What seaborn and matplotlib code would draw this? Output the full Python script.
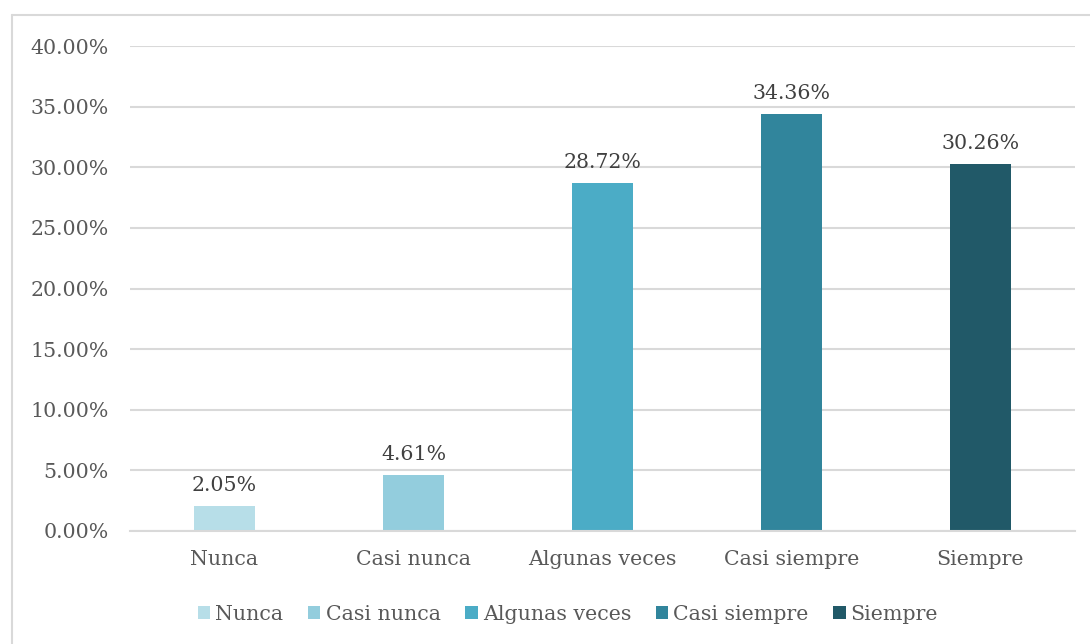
import matplotlib
matplotlib.use("Agg")
import matplotlib.pyplot as plt
from matplotlib.lines import Line2D
from matplotlib.patches import Patch
import seaborn as sns
import pandas as pd

categories = ["Nunca", "Casi nunca", "Algunas veces", "Casi siempre", "Siempre"]
values = [2.05, 4.61, 28.72, 34.36, 30.26]
colors = ["#B7DEE8", "#93CDDD", "#4BACC6", "#31859C", "#215968"]
y_ticks = [0, 5, 10, 15, 20, 25, 30, 35, 40]

sns.set_theme(style="white")
plt.rcParams["font.family"] = ["DejaVu Serif"]

df = pd.DataFrame({"categoria": categories, "porcentaje": values})

W, H = 1090, 644
FS = 14.8
fig = plt.figure(figsize=(W / 100, H / 100), dpi=100)
ax = fig.add_axes([130 / W, 1 - 531 / H, 945 / W, (531 - 46) / H])

sns.barplot(data=df, x="categoria", y="porcentaje", hue="categoria",
            palette=colors, order=categories, hue_order=categories,
            width=0.32, saturation=1, legend=False, linewidth=0, ax=ax)

ax.set_ylim(0, 40)
ax.set_xlim(-0.5, len(categories) - 0.5)
ax.set_yticks(y_ticks)
ax.set_yticklabels([f"{t:.2f}%" for t in y_ticks])
ax.yaxis.grid(True, color="#D9D9D9", linewidth=1.5)
ax.set_axisbelow(True)
for side in ["left", "right", "top"]:
    ax.spines[side].set_visible(False)
ax.spines["bottom"].set_color("#D9D9D9")
ax.spines["bottom"].set_linewidth(1.5)
ax.tick_params(axis="both", length=0, labelsize=FS, colors="#595959")
ax.tick_params(axis="y", pad=15.5)
ax.tick_params(axis="x", pad=14)
ax.set_xlabel("")
ax.set_ylabel("")

for i, v in enumerate(values):
    ax.annotate(f"{v:.2f}%", (i, v), xytext=(0, 8), textcoords="offset points",
                ha="center", va="bottom", fontsize=FS, color="#404040")

handles = [Patch(facecolor=c, edgecolor="none") for c in colors]
fig.legend(handles, categories, loc="center", bbox_to_anchor=(568 / W, 1 - 614 / H),
           ncol=5, frameon=False, fontsize=FS, labelcolor="#595959",
           handlelength=0.6, handleheight=0.6, handletextpad=0.25, columnspacing=1.2)

# chart frame
fig.add_artist(Line2D([12 / W, 1], [1 - 15 / H, 1 - 15 / H], color="#D9D9D9",
                      linewidth=1.5, transform=fig.transFigure))
fig.add_artist(Line2D([12 / W, 12 / W], [0, 1 - 15 / H], color="#D9D9D9",
                      linewidth=1.5, transform=fig.transFigure))

fig.savefig("out.png", dpi=100, facecolor="white")
